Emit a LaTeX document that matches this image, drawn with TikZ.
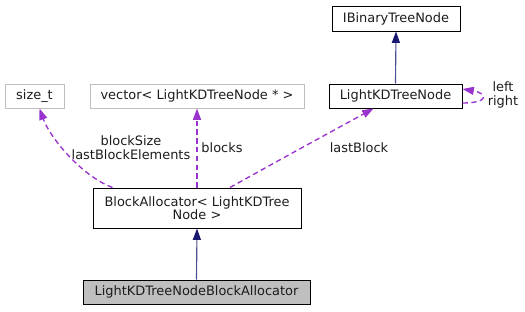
\documentclass[tikz,border=0pt]{standalone}
\usepackage{fontspec}
\setmainfont{DejaVu Sans}
\usetikzlibrary{calc,arrows.meta}
\definecolor{inhline}{HTML}{4E4E92}
\definecolor{inhhead}{HTML}{191970}
\definecolor{usecol}{HTML}{9A32CD}
\definecolor{txt}{HTML}{1C1C1C}
\definecolor{greyedge}{HTML}{BFBFBF}
\definecolor{selfill}{HTML}{BFBFBF}
\begin{document}
\begin{tikzpicture}[x=0.75pt,y=-0.75pt,
  font=\fontsize{9.7pt}{9.8pt}\selectfont, text=txt,
  cls/.style={draw=black, line width=0.75pt, inner sep=0pt, align=center},
  ext/.style={draw=greyedge, line width=0.75pt, inner sep=0pt, align=center},
  inherit/.style={draw=inhline, line width=0.85pt,
    -{Triangle[length=8.5pt,width=6pt,fill=inhhead,color=inhhead]}},
  usage/.style={draw=usecol, line width=1pt, dash pattern=on 4pt off 2.6pt,
    -{Triangle[length=8.5pt,width=6pt,fill=usecol,color=usecol]}},
  lbl/.style={inner sep=0pt, align=center, font=\fontsize{9.7pt}{10.6pt}\selectfont}]
\useasboundingbox (0,0) rectangle (525,311);

% class boxes
\node[cls, minimum width=96pt, minimum height=18.75pt] (ibt) at (396,18.5) {IBinaryTreeNode};
\node[ext, minimum width=44.25pt, minimum height=18pt] (sz) at (34.5,96) {size\_t};
\node[ext, minimum width=160.5pt, minimum height=18pt] (vec) at (197,96) {vector< LightKDTreeNode * >};
\node[cls, minimum width=99.75pt, minimum height=18pt] (lk) at (395.5,96) {LightKDTreeNode};
\node[cls, minimum width=156pt, minimum height=30pt] (ba) at (197,208)
  {BlockAllocator< LightKDTree\\Node >};
\node[cls, fill=selfill, minimum width=170.25pt, minimum height=18pt] (lba) at (196.5,292)
  {LightKDTreeNodeBlockAllocator};

% inheritance
\draw[inherit] (lk.north) -- (ibt.south);
\draw[inherit] (lba.north) -- (ba.south);

% usage relations
\draw[usage] ($(ba.north west)+(20,0)$) .. controls +(-32,-12) and +(10,28) .. ($(sz.south)+(5,0)$);
\draw[usage] (ba.north) -- (vec.south);
\draw[usage] ($(ba.north)+(33,0)$) .. controls +(50,-28) and +(-40,22) .. ($(lk.south)+(-22,0)$);
\draw[usage] ($(lk.east)+(0,7)$) .. controls +(28,0) and +(24,4) .. ($(lk.east)+(0,-7)$);

% relation labels
\node[lbl] (l1) at (131,148) {blockSize\\lastBlockElements};
\node[lbl] (l2) at (222,148) {blocks};
\node[lbl] (l3) at (359,148) {lastBlock};
\node[lbl] (l4) at (503,94.5) {left\\right};
\end{tikzpicture}
\end{document}
